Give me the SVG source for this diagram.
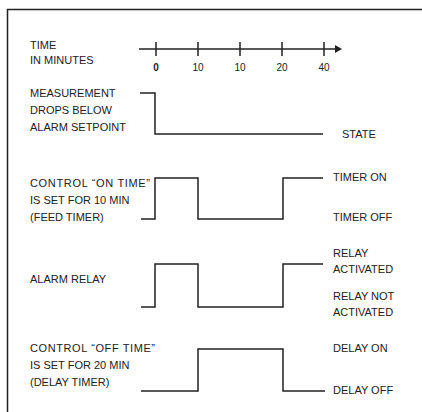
<svg xmlns="http://www.w3.org/2000/svg" width="422" height="412" viewBox="0 0 422 412">
<style>
text{font-family:"Liberation Sans",Arial,sans-serif;font-size:11px;fill:#222}
.t{font-size:10px;text-anchor:middle}
.w{fill:none;stroke:#222;stroke-width:1.5}
</style>
<rect width="422" height="412" fill="#fff"/>
<path class="w" d="M7.5,412 V9.5 H422"/>
<g id="axis">
<line class="w" x1="139" y1="49" x2="336" y2="49"/>
<polygon points="335,45 342,49 335,53" fill="#222"/>
<path class="w" d="M156,42 V56 M198,42 V56 M240,42 V56 M282,42 V56 M324,42 V56"/>
<text class="t" x="156" y="71" font-weight="bold">0</text>
<text class="t" x="198" y="71">10</text>
<text class="t" x="240" y="71">10</text>
<text class="t" x="282" y="71">20</text>
<text class="t" x="324" y="71">40</text>
<text x="30" y="49">TIME</text>
<text x="30" y="64">IN MINUTES</text>
</g>
<g id="measurement">
<text x="30" y="97">MEASUREMENT</text>
<text x="30" y="114">DROPS BELOW</text>
<text x="30" y="131">ALARM SETPOINT</text>
<text x="342" y="138">STATE</text>
</g>
<g id="feed">
<text x="30" y="187" textLength="120" lengthAdjust="spacing">CONTROL “ON TIME”</text>
<text x="30" y="204">IS SET FOR 10 MIN</text>
<text x="30" y="221">(FEED TIMER)</text>
<text x="333" y="181">TIMER ON</text>
<text x="333" y="221">TIMER OFF</text>
</g>
<g id="relay">
<text x="30" y="283">ALARM RELAY</text>
<text x="333" y="257">RELAY</text>
<text x="333" y="273">ACTIVATED</text>
<text x="333" y="300">RELAY NOT</text>
<text x="333" y="316">ACTIVATED</text>
</g>
<g id="delay">
<text x="30" y="352" textLength="125" lengthAdjust="spacing">CONTROL “OFF TIME”</text>
<text x="30" y="369">IS SET FOR 20 MIN</text>
<text x="30" y="386">(DELAY TIMER)</text>
<text x="333" y="352">DELAY ON</text>
<text x="333" y="394">DELAY OFF</text>
</g>
<g id="connectors">
<path class="w" d="M140,93 H155 V134 H323"/>
<path class="w" d="M141,219 H155 V178 H198 V219 H283 V178 H323"/>
<path class="w" d="M141,307 H155 V264 H198 V307 H283 V264 H323"/>
<path class="w" d="M141,391 H198 V349 H283 V391 H325"/>
</g>
</svg>
